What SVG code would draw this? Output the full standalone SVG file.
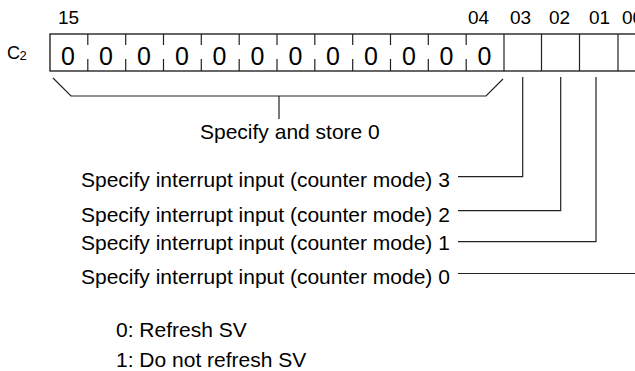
<svg xmlns="http://www.w3.org/2000/svg" width="635" height="371" viewBox="0 0 635 371">
<style>
text{font-family:"Liberation Sans",Arial,sans-serif;fill:#000}
.t{font-size:21px}
.b{font-size:19px}
.z{font-size:25px;text-anchor:middle}
.ln{stroke:#222;stroke-width:1.2;fill:none}
.bx{stroke:#000;stroke-width:1.2;fill:#fff}
</style>
<rect width="635" height="371" fill="#fff"/>
<g id="register">
<text x="7" y="59" style="font-size:18px">C</text><text x="19.5" y="60" style="font-size:13px">2</text>
<text class="b" x="58" y="24">15</text>
<text class="b" x="468" y="24">04</text>
<text class="b" x="510" y="24">03</text>
<text class="b" x="549" y="24">02</text>
<text class="b" x="589" y="24">01</text>
<text class="b" x="622" y="24">00</text>
<rect class="bx" x="50" y="34" width="620" height="37"/>
<g class="ln">
<path d="M87.8 34v11M87.8 59v12M125.7 34v11M125.7 59v12M163.5 34v11M163.5 59v12M201.3 34v11M201.3 59v12M239.2 34v11M239.2 59v12M277 34v11M277 59v12M314.8 34v11M314.8 59v12M352.7 34v11M352.7 59v12M390.5 34v11M390.5 59v12M428.3 34v11M428.3 59v12M466.2 34v11M466.2 59v12"/>
<path d="M504 34v37M541.5 34v37M579.5 34v37M618 34v37"/>
</g>
<text class="z" x="68" y="65">0</text>
<text class="z" x="106" y="65">0</text>
<text class="z" x="144" y="65">0</text>
<text class="z" x="182" y="65">0</text>
<text class="z" x="219.5" y="65">0</text>
<text class="z" x="257.5" y="65">0</text>
<text class="z" x="295.5" y="65">0</text>
<text class="z" x="333" y="65">0</text>
<text class="z" x="371" y="65">0</text>
<text class="z" x="409" y="65">0</text>
<text class="z" x="446.5" y="65">0</text>
<text class="z" x="484.5" y="65">0</text>
</g>
<g id="connectors" class="ln">
<path d="M53 78L71 96H486L503 79M279 96V119"/>
<path d="M458 176.7H522.7V77"/>
<path d="M458 210.7H560.7V77"/>
<path d="M458 241.7H596V77"/>
<path d="M458 273.5H640"/>
</g>
<g id="labels">
<text class="t" x="200" y="138.5">Specify and store 0</text>
<text class="t" x="81" y="186.5">Specify interrupt input (counter mode) 3</text>
<text class="t" x="81" y="221.5">Specify interrupt input (counter mode) 2</text>
<text class="t" x="81" y="250">Specify interrupt input (counter mode) 1</text>
<text class="t" x="81" y="283.5">Specify interrupt input (counter mode) 0</text>
<text class="t" x="116" y="337">0: Refresh SV</text>
<text class="t" x="116" y="367">1: Do not refresh SV</text>
</g>
</svg>
